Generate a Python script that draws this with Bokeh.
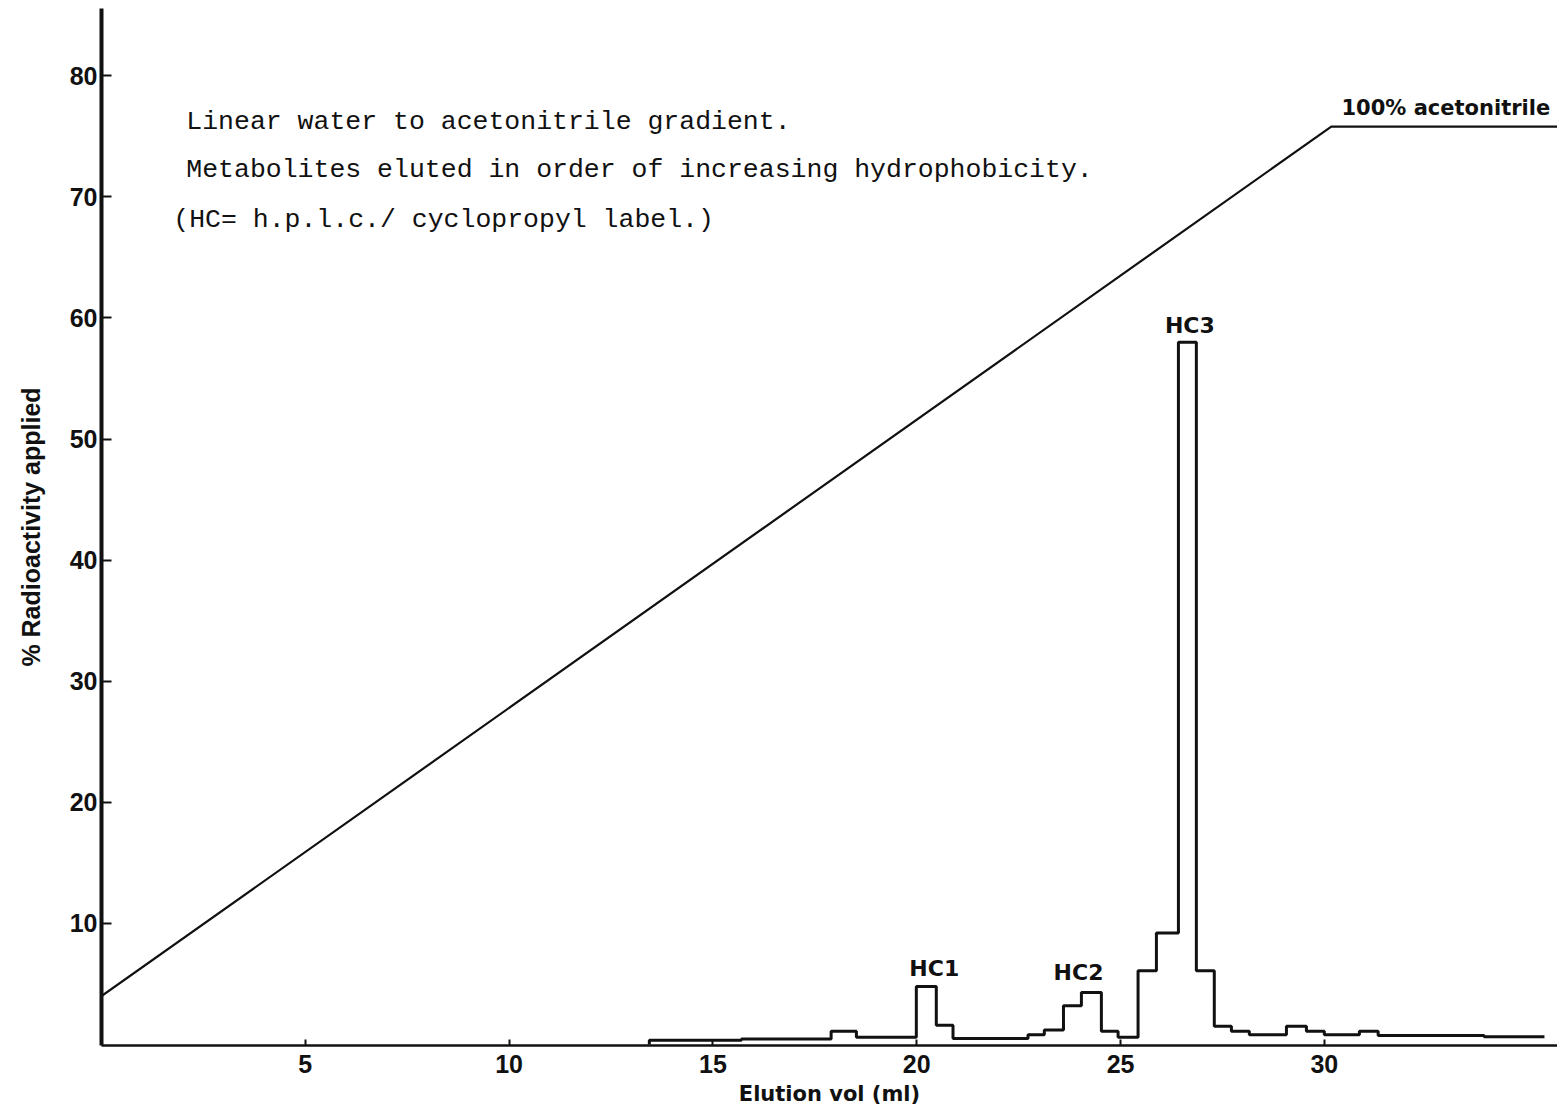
from bokeh.plotting import figure
from bokeh.models import FixedTicker, Range1d
from bokeh.embed import file_html
from bokeh.resources import INLINE
from bokeh.core.properties import value

# ---- data ----
# histogram bin edges (Elution vol, ml) and % radioactivity per bin
bin_edges = [13.44, 15.70, 17.90, 18.52, 19.99, 20.48, 20.89, 22.73, 23.13, 23.60,
             24.04, 24.53, 24.94, 25.43, 25.88, 26.42, 26.86, 27.30, 27.72, 28.16,
             29.07, 29.56, 30.00, 30.86, 31.32, 33.92, 35.40]
bin_values = [0.35, 0.45, 1.1, 0.6, 4.8, 1.6, 0.5, 0.8, 1.2, 3.2,
              4.3, 1.1, 0.6, 6.1, 9.2, 58.0, 6.1, 1.5, 1.1, 0.8,
              1.5, 1.1, 0.8, 1.1, 0.75, 0.65]

# acetonitrile gradient line
grad_x = [0.0, 30.17, 36.0]
grad_y = [4.0, 75.8, 75.8]

x_ticks = [5, 10, 15, 20, 25, 30]
y_ticks = [10, 20, 30, 40, 50, 60, 70, 80]

peak_names = ["HC1", "HC2", "HC3"]
peak_x = [20.43, 23.97, 26.70]
peak_y = [6.3, 5.95, 59.4]

notes = ["Linear water to acetonitrile gradient.",
         "Metabolites eluted in order of increasing hydrophobicity.",
         "(HC= h.p.l.c./ cyclopropyl label.)"]
notes_x = [2.08, 2.08, 1.76]
notes_y = [76.2, 72.2, 68.1]

INK = "#111111"

p = figure(width=1557, height=1110, output_backend="svg", toolbar_location=None,
           x_range=Range1d(0, 35.72), y_range=Range1d(-0.08, 85.55),
           min_border_left=101, min_border_right=0, min_border_top=8, min_border_bottom=65)
p.outline_line_color = None
p.xgrid.visible = False
p.ygrid.visible = False
p.background_fill_color = "white"

# gradient
p.line(grad_x, grad_y, line_color=INK, line_width=2.2)

# step histogram
sx = [bin_edges[0]] + bin_edges
sy = [0.0] + bin_values + [bin_values[-1]]
p.step(sx, sy, mode="after", line_color=INK, line_width=3.0)

# peak labels
p.text(x=peak_x, y=peak_y, text=peak_names, text_align="center", text_baseline="middle",
       text_font=value("DejaVu Sans"), text_font_style="bold", text_font_size="22px",
       text_color=INK)

p.text(x=[30.42], y=[77.3], text=["100% acetonitrile"], text_align="left",
       text_baseline="middle", text_font=value("DejaVu Sans"), text_font_style="bold",
       text_font_size="21px", text_color=INK)

p.text(x=notes_x, y=notes_y, text=notes, text_align="left", text_baseline="middle",
       text_font=value("Liberation Mono"), text_font_size="26.5px", text_color=INK)

# axes
xa = p.xaxis[0]
xa.ticker = FixedTicker(ticks=x_ticks)
xa.minor_tick_line_color = None
xa.major_tick_in = 6
xa.major_tick_out = 0
xa.major_tick_line_width = 2
xa.major_tick_line_color = INK
xa.axis_line_width = 2.5
xa.axis_line_color = INK
xa.major_label_text_font = "Liberation Sans"
xa.major_label_text_font_style = "bold"
xa.major_label_text_font_size = "25px"
xa.major_label_text_color = INK
xa.major_label_standoff = 9
xa.axis_label = "Elution vol (ml)"
xa.axis_label_text_font = "DejaVu Sans"
xa.axis_label_text_font_style = "bold"
xa.axis_label_text_font_size = "21px"
xa.axis_label_text_color = INK
xa.axis_label_standoff = 6

ya = p.yaxis[0]
ya.ticker = FixedTicker(ticks=y_ticks)
ya.minor_tick_line_color = None
ya.major_tick_in = 10
ya.major_tick_out = 0
ya.major_tick_line_width = 2
ya.major_tick_line_color = INK
ya.axis_line_width = 4
ya.axis_line_color = INK
ya.major_label_text_font = "Liberation Sans"
ya.major_label_text_font_style = "bold"
ya.major_label_text_font_size = "25px"
ya.major_label_text_color = INK
ya.major_label_standoff = 4
ya.axis_label = "% Radioactivity applied"
ya.axis_label_text_font = "Liberation Sans"
ya.axis_label_text_font_style = "bold"
ya.axis_label_text_font_size = "25px"
ya.axis_label_text_color = INK
ya.axis_label_standoff = 22

open("out.html", "w").write(file_html(p, INLINE))
